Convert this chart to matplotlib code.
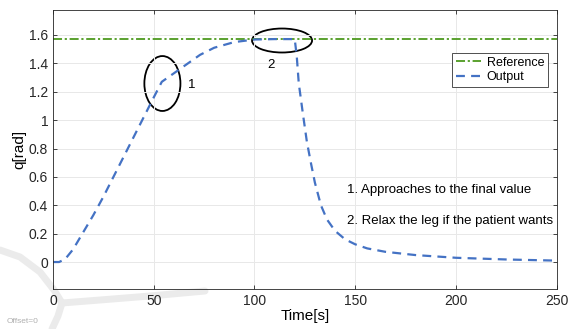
import matplotlib
matplotlib.use('Agg')
import matplotlib.pyplot as plt
from matplotlib.patches import Ellipse
from matplotlib.lines import Line2D
import numpy as np

plt.rcParams['font.family'] = ['Liberation Sans', 'DejaVu Sans']

# data
ref_value = 1.5708
time = [0, 3, 6, 10, 15, 20, 25, 30, 35, 40, 45, 50, 54, 58, 63, 68, 73, 80, 90,
        100, 110, 120, 121, 122, 124, 126, 128, 130, 133, 136, 140, 145, 150, 156,
        165, 180, 200, 225, 250]
output = [0.0, 0.0, 0.02, 0.09, 0.21, 0.33, 0.46, 0.60, 0.74, 0.88, 1.02, 1.16, 1.27,
          1.31, 1.36, 1.41, 1.46, 1.51, 1.55, 1.568, 1.571, 1.571, 1.45, 1.26, 1.05,
          0.85, 0.70, 0.56, 0.40, 0.30, 0.22, 0.16, 0.125, 0.096, 0.072, 0.049, 0.030,
          0.018, 0.010]
notes = ['1. Approaches to the final value', '2. Relax the leg if the patient wants']

W, H = 575, 329
fig = plt.figure(figsize=(W / 100, H / 100), dpi=100)

# faint watermark strokes (pixel positions of the background logo)
wm = [([0, 20, 40, 54, 62, 58, 52], [250, 257, 272, 290, 303, 316, 329]),
      ([62, 100, 150, 205], [303, 300, 296, 291])]
for xs, ys in wm:
    fig.add_artist(Line2D(np.array(xs) / W, 1 - np.array(ys) / H, color='#ebebeb',
                          lw=5, solid_capstyle='round', transform=fig.transFigure, zorder=0))

ax = fig.add_axes([0.0922, 0.1216, 0.8758, 0.848])
ax.set_facecolor('none')

ax.plot([0, 250], [ref_value, ref_value], color='#4d9a1f', lw=1.3,
        linestyle=(0, (5, 1.5, 1.2, 1.5)), label='Reference')
ax.plot(time, output, color='#4472c4', lw=1.6, linestyle=(0, (4, 2.8)), label='Output')

ax.add_patch(Ellipse((54.3, 1.258), 17.9, 0.387, fill=False, color='black', lw=1.3))
ax.add_patch(Ellipse((113.7, 1.561), 29.8, 0.169, fill=False, color='black', lw=1.3))
ax.text(68.9, 1.25, '1', fontsize=9.5, ha='center', va='center')
ax.text(108.3, 1.385, '2', fontsize=9.5, ha='center', va='center')
ax.text(146, 0.507, notes[0], fontsize=9.5, va='center')
ax.text(146, 0.289, notes[1], fontsize=9.5, va='center')

ax.set_xlim(0, 250)
ax.set_ylim(-0.19, 1.776)
ax.set_xticks([0, 50, 100, 150, 200, 250])
ax.set_yticks([0, 0.2, 0.4, 0.6, 0.8, 1.0, 1.2, 1.4, 1.6])
ax.set_yticklabels(['0', '0.2', '0.4', '0.6', '0.8', '1', '1.2', '1.4', '1.6'])
ax.tick_params(direction='in', top=True, right=True, labelsize=10, colors='#262626',
               length=3, width=0.6)
ax.grid(True, color='#e8e8e8', lw=0.7)
for s in ax.spines.values():
    s.set_color('#262626')
    s.set_linewidth(0.6)

ax.set_xlabel('Time[s]', fontsize=11, labelpad=1)
ax.set_ylabel('q[rad]', fontsize=11, labelpad=2)

leg = ax.legend(loc='upper right', bbox_to_anchor=(0.983, 0.846), borderaxespad=0,
                fontsize=9, fancybox=False, framealpha=1, edgecolor='#333333',
                handlelength=2.0, handletextpad=0.5, borderpad=0.3, labelspacing=0.2)
leg.get_frame().set_linewidth(0.6)

fig.text(0.012, 0.018, 'Offset=0', fontsize=6, color='#b0b0b0')

fig.savefig('out.png', dpi=100)
